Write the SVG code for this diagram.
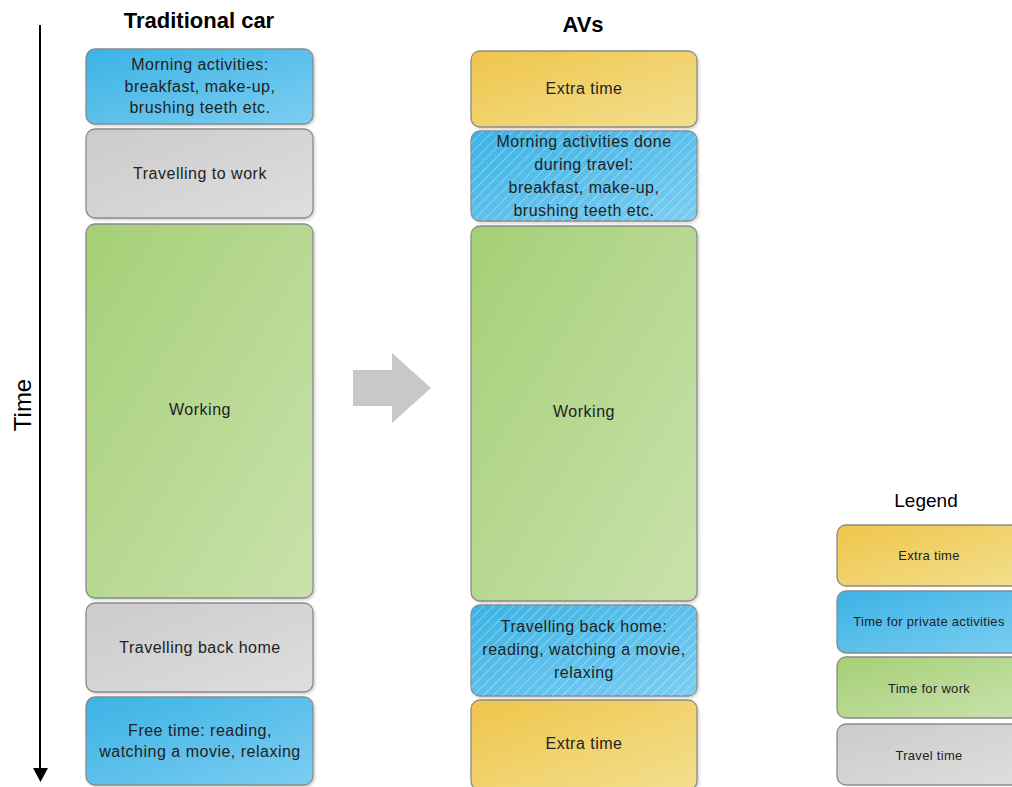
<svg xmlns="http://www.w3.org/2000/svg" width="1012" height="787" viewBox="0 0 1012 787">
<style>
.box{stroke:#8a8a8a;stroke-width:1.3}
.t{font-family:"Liberation Sans",Arial,sans-serif;font-size:16px;letter-spacing:0.5px;fill:#222;text-anchor:middle}
.lt{font-family:"Liberation Sans",Arial,sans-serif;font-size:13px;letter-spacing:0.3px;fill:#222;text-anchor:middle}
.title{font-family:"Liberation Sans",Arial,sans-serif;font-size:22px;font-weight:bold;fill:#000;text-anchor:middle}
</style>
<defs>
<linearGradient id="gBlue" x1="0" y1="0" x2="1" y2="1"><stop offset="0" stop-color="#3bb3e5"/><stop offset="1" stop-color="#7ccdf1"/></linearGradient>
<linearGradient id="gGray" x1="0" y1="0" x2="1" y2="1"><stop offset="0" stop-color="#cbcbcb"/><stop offset="1" stop-color="#dedede"/></linearGradient>
<linearGradient id="gGreen" x1="0" y1="0" x2="1" y2="1"><stop offset="0" stop-color="#a5cf76"/><stop offset="1" stop-color="#c9e2ad"/></linearGradient>
<linearGradient id="gYellow" x1="0" y1="0" x2="1" y2="1"><stop offset="0" stop-color="#efc54a"/><stop offset="1" stop-color="#f3df8f"/></linearGradient>
<pattern id="hatch" patternUnits="userSpaceOnUse" width="7" height="7" patternTransform="rotate(45)">
<rect width="7" height="7" fill="none"/>
<line x1="0" y1="0" x2="0" y2="7" stroke="#ffffff" stroke-opacity="0.45" stroke-width="1.4"/>
</pattern>
<filter id="sh" x="-5%" y="-5%" width="115%" height="115%"><feDropShadow dx="1.5" dy="1.5" stdDeviation="1.2" flood-color="#000" flood-opacity="0.18"/></filter>
</defs>
<rect width="1012" height="787" fill="#fff"/>

<g id="time-axis">
<line x1="40" y1="25" x2="40" y2="768" stroke="#000" stroke-width="2"/>
<polygon points="33,768 48,768 40.5,782" fill="#000"/>
<text transform="translate(31,405) rotate(-90)" font-family="'Liberation Sans',Arial,sans-serif" font-size="24" text-anchor="middle" fill="#000">Time</text>
</g>

<text class="title" x="199" y="28">Traditional car</text>
<text class="title" x="583" y="32">AVs</text>

<g id="trad-morning"><rect class="box" x="86" y="49" width="227" height="75" rx="9" fill="url(#gBlue)" filter="url(#sh)"/>
<text class="t" x="200" y="70">Morning activities:</text><text class="t" x="200" y="92">breakfast, make-up,</text><text class="t" x="200" y="113">brushing teeth etc.</text></g>
<g id="trad-travel"><rect class="box" x="86" y="129" width="227" height="89" rx="9" fill="url(#gGray)" filter="url(#sh)"/>
<text class="t" x="200" y="179">Travelling to work</text></g>
<g id="trad-working"><rect class="box" x="86" y="224" width="227" height="374" rx="9" fill="url(#gGreen)" filter="url(#sh)"/>
<text class="t" x="200" y="415">Working</text></g>
<g id="trad-back"><rect class="box" x="86" y="603" width="227" height="89" rx="9" fill="url(#gGray)" filter="url(#sh)"/>
<text class="t" x="200" y="653">Travelling back home</text></g>
<g id="trad-free"><rect class="box" x="86" y="697" width="227" height="88" rx="9" fill="url(#gBlue)" filter="url(#sh)"/>
<text class="t" x="200" y="736">Free time: reading,</text><text class="t" x="200" y="757">watching a movie, relaxing</text></g>

<g id="connectors">
<polygon points="353,370 392,370 392,353 431,388 392,423 392,406 353,406" fill="#c8c8c8"/>
</g>

<g id="av-extra1"><rect class="box" x="471" y="51" width="226" height="76" rx="9" fill="url(#gYellow)" filter="url(#sh)"/>
<text class="t" x="584" y="94">Extra time</text></g>
<g id="av-morning"><rect class="box" x="471" y="131" width="226" height="90" rx="9" fill="url(#gBlue)" filter="url(#sh)"/>
<rect x="471" y="131" width="226" height="90" rx="9" fill="url(#hatch)"/>
<text class="t" x="584" y="147">Morning activities done</text><text class="t" x="584" y="170">during travel:</text><text class="t" x="584" y="193">breakfast, make-up,</text><text class="t" x="584" y="216">brushing teeth etc.</text></g>
<g id="av-working"><rect class="box" x="471" y="226" width="226" height="375" rx="9" fill="url(#gGreen)" filter="url(#sh)"/>
<text class="t" x="584" y="417">Working</text></g>
<g id="av-back"><rect class="box" x="471" y="605" width="226" height="91" rx="9" fill="url(#gBlue)" filter="url(#sh)"/>
<rect x="471" y="605" width="226" height="91" rx="9" fill="url(#hatch)"/>
<text class="t" x="584" y="632">Travelling back home:</text><text class="t" x="584" y="655">reading, watching a movie,</text><text class="t" x="584" y="678">relaxing</text></g>
<g id="av-extra2"><rect class="box" x="471" y="700" width="226" height="90" rx="9" fill="url(#gYellow)" filter="url(#sh)"/>
<text class="t" x="584" y="749">Extra time</text></g>

<g id="legend">
<text x="926" y="507" font-family="'Liberation Sans',Arial,sans-serif" font-size="19" text-anchor="middle" fill="#000">Legend</text>
<g id="leg-extra"><rect class="box" x="837" y="525" width="186" height="61" rx="9" fill="url(#gYellow)"/><text class="lt" x="929" y="560">Extra time</text></g>
<g id="leg-private"><rect class="box" x="837" y="591" width="186" height="62" rx="9" fill="url(#gBlue)"/><text class="lt" x="929" y="626">Time for private activities</text></g>
<g id="leg-work"><rect class="box" x="837" y="657" width="186" height="61" rx="9" fill="url(#gGreen)"/><text class="lt" x="929" y="693">Time for work</text></g>
<g id="leg-travel"><rect class="box" x="837" y="724" width="186" height="61" rx="9" fill="url(#gGray)"/><text class="lt" x="929" y="760">Travel time</text></g>
</g>
</svg>
